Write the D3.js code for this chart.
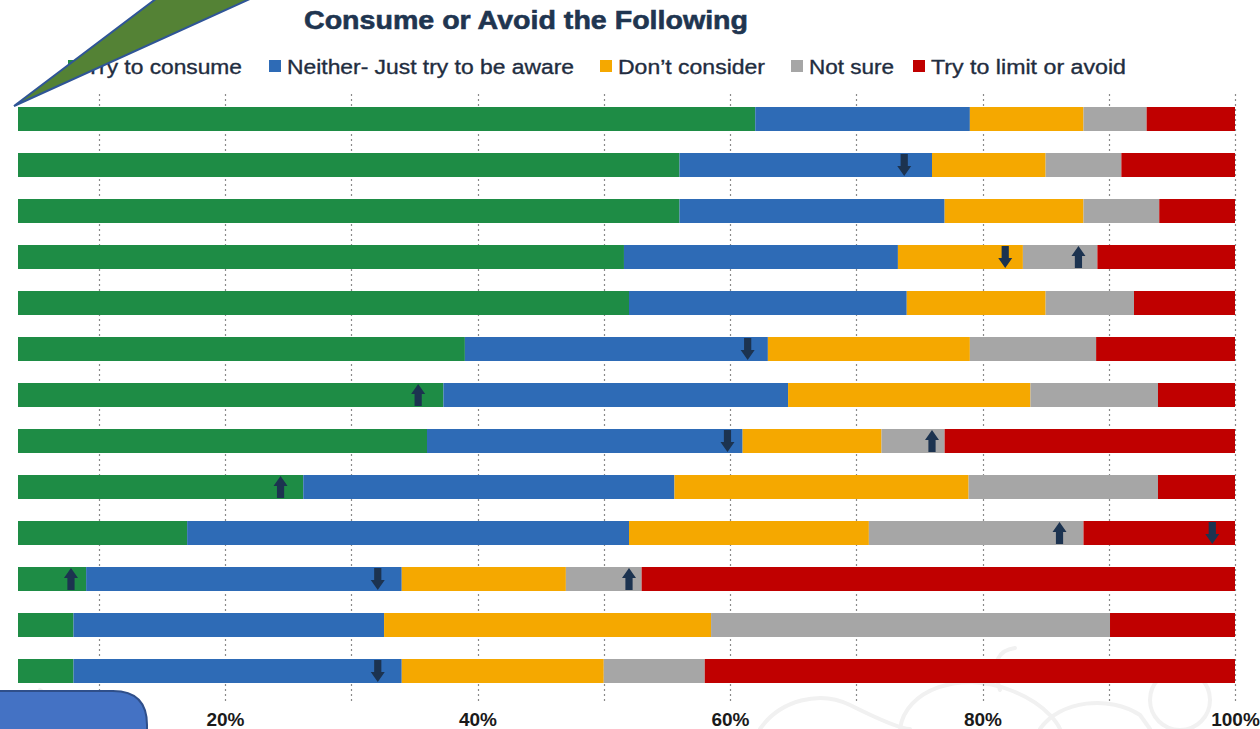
<!DOCTYPE html>
<html>
<head>
<meta charset="utf-8">
<script src="https://cdn.jsdelivr.net/npm/d3@7"></script>
<style>
  html, body { margin: 0; padding: 0; background: #ffffff; }
  svg { display: block; }
</style>
</head>
<body>
<svg id="chart" width="1260" height="729"></svg>
<script>
// ---------- DATA ----------
const categories = ["R1","R2","R3","R4","R5","R6","R7","R8","R9","R10","R11","R12","R13"];
const seriesNames = ["Try to consume","Neither- Just try to be aware","Don\u2019t consider","Not sure","Try to limit or avoid"];
const tryToConsume = [62, 56, 56, 51.6, 52, 39, 37.3, 36, 26.2, 17, 9, 8, 8];
const neither      = [17, 20, 21, 21.7, 22, 24, 27.3, 25, 29.4, 35, 25, 24.6, 26];
const dontConsider = [ 9,  9, 11,  9.9, 11, 16, 19.2, 11, 23.3, 19, 13, 25.9, 16];
const notSure      = [ 5,  6,  6,  5.9,  7, 10, 10.1,  5, 15.0, 17,  6, 31.6, 8];
const tryToLimit   = [ 7,  9,  6, 10.9,  8, 11,  6.1, 23,  6.1, 12, 47, 9.9, 42];
const tickValues = [0.2, 0.4, 0.6, 0.8, 1.0];
const gridValues = [0.1,0.2,0.3,0.4,0.5,0.6,0.7,0.8,0.9,1.0];
// change-indicator arrows: row, position (share), direction
const arrowRows = [2, 4, 4, 6, 7, 8, 8, 9, 10, 10, 11, 11, 11, 13];
const arrowPos  = [0.738, 0.818, 0.876, 0.614, 0.353, 0.598, 0.760, 0.244, 0.861, 0.982, 0.078, 0.321, 0.520, 0.321];
const arrowDir  = ["down","down","up","down","up","down","up","up","up","down","up","down","up","down"];

// ---------- STYLE ----------
const colors = ["#1e8c45", "#2e6bb6", "#f5a800", "#a6a6a6", "#c00000"];
const arrowColor = "#1c3350";
const textDark = "#1f2d40";

const svg = d3.select("#chart");

// decorative faint watermark (behind everything)
const wm = svg.append("g").attr("fill", "none").attr("stroke", "#f1f1f1").attr("stroke-width", 4).attr("stroke-linecap","round");
wm.append("path").attr("d", "M760,729 C780,700 820,690 850,705 S900,729 910,729");
wm.append("path").attr("d", "M900,729 C905,690 960,670 1010,690 C1050,705 1060,729 1060,729");
wm.append("path").attr("d", "M1000,690 C990,660 1000,650 1015,648");
wm.append("path").attr("d", "M1040,729 C1060,700 1110,695 1140,715 L1150,729");
wm.append("circle").attr("cx", 1180).attr("cy", 700).attr("r", 30);
wm.append("path").attr("d", "M40,690 C60,705 80,720 95,729");

const x = d3.scaleLinear().domain([0, 1]).range([-27.5, 1235]);
const y = d3.scaleBand().domain(categories).range([107, 683]).paddingInner(22/46).paddingOuter(0);

// gridlines
svg.append("g").selectAll("line").data(gridValues).join("line")
  .attr("x1", d => Math.round(x(d)) + 0.5).attr("x2", d => Math.round(x(d)) + 0.5)
  .attr("y1", 94).attr("y2", 701)
  .attr("stroke", "#8a8a8a").attr("stroke-width", 1.2).attr("stroke-dasharray", "2,3");

// stacked data
const table = categories.map((c, i) => ({
  cat: c,
  [seriesNames[0]]: tryToConsume[i] / 100,
  [seriesNames[1]]: neither[i] / 100,
  [seriesNames[2]]: dontConsider[i] / 100,
  [seriesNames[3]]: notSure[i] / 100,
  [seriesNames[4]]: tryToLimit[i] / 100
}));
const stacked = d3.stack().keys(seriesNames)(table);

svg.append("defs").append("clipPath").attr("id", "plotclip")
  .append("rect").attr("x", 18).attr("y", 0).attr("width", 1242).attr("height", 729);

const bars = svg.append("g").attr("clip-path", "url(#plotclip)");
bars.selectAll("g").data(stacked).join("g")
  .attr("fill", (d, i) => colors[i])
  .selectAll("rect").data(d => d).join("rect")
  .attr("x", d => x(d[0]))
  .attr("width", d => Math.max(0, x(d[1]) - x(d[0])))
  .attr("y", d => y(d.data.cat))
  .attr("height", y.bandwidth());

// arrows
function arrowPath(cx, cy, dir) {
  const s = dir === "up" ? -1 : 1;
  const hw = 7, sw = 3.6, tip = 11, neck = 1;
  const pts = [
    [cx, cy + s * tip],
    [cx + hw, cy + s * neck],
    [cx + sw, cy + s * neck],
    [cx + sw, cy - s * tip],
    [cx - sw, cy - s * tip],
    [cx - sw, cy + s * neck],
    [cx - hw, cy + s * neck]
  ];
  return "M" + pts.map(p => p.join(",")).join("L") + "Z";
}
svg.append("g").selectAll("path").data(arrowRows.map((r, i) => ({r, p: arrowPos[i], d: arrowDir[i]})))
  .join("path")
  .attr("d", d => arrowPath(x(d.p), y(categories[d.r - 1]) + y.bandwidth() / 2, d.d))
  .attr("fill", arrowColor);

// x axis labels
const axis = d3.axisBottom(x).tickValues(tickValues).tickFormat(d3.format(".0%")).tickSize(0);
const ax = svg.append("g").attr("transform", "translate(0,711)").call(axis);
ax.select(".domain").remove();
ax.selectAll("text")
  .attr("dy", 0).attr("y", 15)
  .attr("font-family", "Liberation Sans, Arial, sans-serif")
  .attr("font-weight", "bold").attr("font-size", 19).attr("fill", "#1a1a1a");

// title
svg.append("text").attr("x", 526).attr("y", 29).attr("text-anchor", "middle")
  .attr("font-family", "Liberation Sans, Arial, sans-serif").attr("font-weight", "bold")
  .attr("font-size", 26).attr("fill", "#1f3550")
  .attr("stroke", "#1f3550").attr("stroke-width", 0.6)
  .attr("textLength", 444).attr("lengthAdjust", "spacingAndGlyphs")
  .text("Consume or Avoid the Following");

// legend (layout constants)
const legX = [68, 269, 600, 791, 913];
const legW = [156, 287, 147, 85, 195];
const leg = svg.append("g");
seriesNames.forEach((n, i) => {
  leg.append("rect").attr("x", legX[i]).attr("y", 60).attr("width", 12).attr("height", 12).attr("fill", colors[i]);
  leg.append("text").attr("x", legX[i] + 18).attr("y", 74)
    .attr("font-family", "Liberation Sans, Arial, sans-serif").attr("font-size", 20.5)
    .attr("fill", textDark).attr("stroke", textDark).attr("stroke-width", 0.35)
    .attr("textLength", legW[i]).attr("lengthAdjust", "spacingAndGlyphs")
    .text(n);
});

// callout wedge (decoration, top-left)
svg.append("path").attr("d", "M14,106 L157,-2 L252,-2 Z")
  .attr("fill", "#548235").attr("stroke", "#2f5597").attr("stroke-width", 2).attr("stroke-linejoin", "miter");

// rounded box (decoration, bottom-left)
svg.append("path").attr("d", "M-5,691 L113,691 Q147,691 147,725 L147,740 L-5,740 Z")
  .attr("fill", "#4472c4").attr("stroke", "#2f4f8a").attr("stroke-width", 2);
</script>
</body>
</html>
